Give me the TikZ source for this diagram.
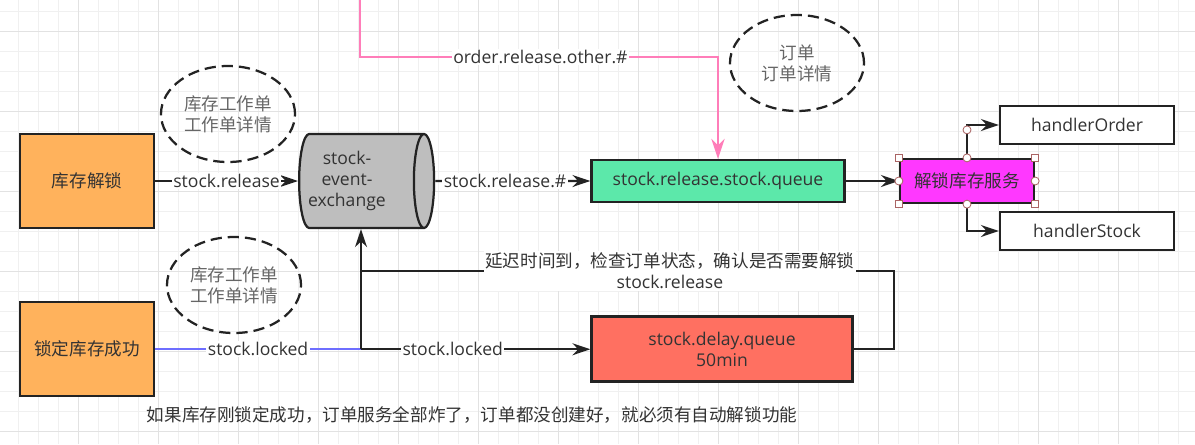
\documentclass[tikz,border=0pt]{standalone}
\usepackage{fontspec}
\setmainfont{Open Sans}
\newfontfamily\cjk{Noto Sans CJK SC}
\usepackage{xcolor}
\usetikzlibrary{shapes.geometric,positioning}
\usetikzlibrary{arrows.meta}

\definecolor{txt}{RGB}{51,51,51}
\definecolor{edge}{RGB}{35,35,35}
\definecolor{gridminor}{RGB}{240,240,240}
\definecolor{gridmajor}{RGB}{226,226,226}
\definecolor{lockorange}{RGB}{255,178,92}
\definecolor{exgray}{RGB}{190,190,190}
\definecolor{queuegreen}{RGB}{92,232,170}
\definecolor{delayred}{RGB}{255,112,97}
\definecolor{svcpink}{RGB}{255,56,255}
\definecolor{pinkline}{RGB}{255,125,185}
\definecolor{blueline}{RGB}{110,110,255}
\definecolor{handle}{RGB}{170,100,100}

\begin{document}
\begin{tikzpicture}[x=0.25mm, y=-0.25mm,
  every node/.style={font=\fontsize{12.5}{15}\selectfont, text=txt},
  cn/.style={font=\cjk\fontsize{12.5}{15}\selectfont},
  box/.style={draw=edge, line width=1.6pt, rectangle, align=center, inner sep=0pt},
  note/.style={draw=edge, dash pattern=on 2.8mm off 1.5mm, line width=1.6pt, ellipse, minimum width=33.5mm, minimum height=24mm, align=center, inner sep=0pt, cn, text=gray!80!black},
  lbl/.style={fill=white, inner sep=1pt, align=center},
  arr/.style={-{Stealth[length=4.5mm, width=3mm]}, line width=1.5pt, draw=edge}]

% background grid
\useasboundingbox (0,0) rectangle (1195,444);
\fill[white] (0,0) rectangle (1195,444);
\foreach \gx in {18,38,...,1195} \draw[gridminor, line width=0.7pt] (\gx,0) -- (\gx,444);
\foreach \gy in {11,31,...,444} \draw[gridminor, line width=0.7pt] (0,\gy) -- (1195,\gy);
\foreach \gx in {78,158,...,1195} \draw[gridmajor, line width=0.7pt] (\gx,0) -- (\gx,444);
\foreach \gy in {31,111,...,444} \draw[gridmajor, line width=0.7pt] (0,\gy) -- (1195,\gy);

% nodes
\node[box, cn, fill=lockorange, minimum width=33.5mm, minimum height=23.5mm] (unlock) at (87,181) {库存解锁};
\node[box, cn, fill=lockorange, minimum width=33.5mm, minimum height=23.5mm, below=18mm of unlock] (lockok) {锁定库存成功};

\node[cylinder, draw=edge, line width=1.6pt, fill=exgray, shape aspect=0.32, minimum width=23.5mm, minimum height=33.75mm, align=center, inner sep=0pt] (exchange) at (361,181) {\hspace*{-7mm}\begin{tabular}{@{}c@{}}stock-\\event-\\exchange\end{tabular}};

\node[box, fill=queuegreen, minimum width=63.25mm, minimum height=10.5mm] (releaseq) at (718,181) {stock.release.stock.queue};
\node[box, cn, fill=svcpink, minimum width=33.5mm, minimum height=11mm] (unlocksvc) at (967,181) {解锁库存服务};
\node[box, fill=white, minimum width=43.5mm, minimum height=9.5mm] (hOrder) at (1087,125) {handlerOrder};
\node[box, fill=white, minimum width=43.5mm, minimum height=9.5mm] (hStock) at (1087,231) {handlerStock};

\node[box, fill=delayred, minimum width=65.25mm, minimum height=16.25mm] (delayq) at (722,349) {stock.delay.queue\\50min};

\node[note] (note1) at (228,114) {库存工作单\\工作单详情};
\node[note] (note2) at (234,285) {库存工作单\\工作单详情};
\node[note] (note3) at (797,63) {订单\\订单详情};

\node[cn, anchor=west] (remark) at (142,415) {如果库存刚锁定成功，订单服务全部炸了，订单都没创建好，就必须有自动解锁功能};

\coordinate (jlock) at (lockok -| exchange.south);
\coordinate (jdelay) at (361,271);
\coordinate (pinktop) at (360,-5);
\coordinate (pinkbend) at (360,57);

% connectors
\draw[arr] (unlock) -- node[lbl]{stock.release} (exchange);
\draw[arr] (exchange) -- node[lbl, pos=0.45]{stock.release.\#} (releaseq);
\draw[pinkline, line width=1.5pt, -{Stealth[length=5mm, width=3.3mm]}] (pinktop) -- (pinkbend) -| node[lbl, pos=0.252]{order.release.other.\#} (releaseq.north);
\draw[arr] (releaseq) -- (unlocksvc);
\draw[arr] (unlocksvc.north) |- (hOrder);
\draw[arr] (unlocksvc.south) |- (hStock);

\draw[blueline, line width=1.5pt] (lockok) -- node[lbl]{stock.locked} (jlock);
\draw[arr] (jlock) -- (jlock |- exchange.south);
\draw[arr] (jlock) -- node[lbl, pos=0.4]{stock.locked} (jlock -| delayq.west);
\draw[edge, line width=1.5pt] (delayq.east) -- ++(40,0) |- node[lbl, pos=0.71]{{\cjk 延迟时间到，检查订单状态，确认是否需要解锁}\\stock.release} (jdelay);

% selection handles
\foreach \a in {north west,north east,south west,south east}
  \draw[handle, fill=white, line width=0.6pt] ([shift={(-3.5,-3.5)}]unlocksvc.\a) rectangle ++(7,7);
\foreach \a in {north,south,east,west}
  \draw[handle, fill=white, line width=0.6pt] (unlocksvc.\a) circle[radius=1mm];
\draw[handle, fill=white, line width=0.6pt] ([yshift=7mm]unlocksvc.north) circle[radius=1mm];

\end{tikzpicture}
\end{document}
